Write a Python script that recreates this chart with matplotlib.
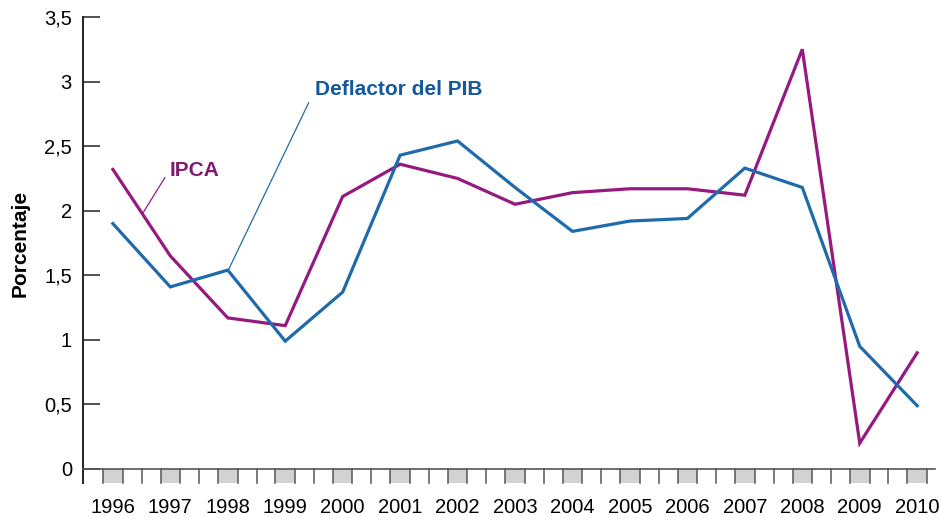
import matplotlib
matplotlib.use("Agg")
import matplotlib.pyplot as plt
from matplotlib.patches import Rectangle
from matplotlib.transforms import blended_transform_factory

plt.rcParams["font.family"] = ["Liberation Sans", "DejaVu Sans"]

years = list(range(1996, 2011))
ipca = [2.32, 1.65, 1.17, 1.11, 2.11, 2.36, 2.25, 2.05, 2.14, 2.17, 2.17, 2.12, 3.25, 0.20, 0.90]
deflactor = [1.90, 1.41, 1.54, 0.99, 1.37, 2.43, 2.54, 2.18, 1.84, 1.92, 1.94, 2.33, 2.18, 0.95, 0.49]
yticks = [0, 0.5, 1, 1.5, 2, 2.5, 3, 3.5]
ytick_labels = ["0", "0,5", "1", "1,5", "2", "2,5", "3", "3,5"]

PURPLE = "#951a80"
BLUE = "#1f6aab"

fig = plt.figure(figsize=(9.4, 5.18), dpi=100)
ax = fig.add_axes([83 / 940, (518 - 469) / 518, (935 - 83) / 940, 452 / 518])

ax.plot(years, ipca, color=PURPLE, lw=2.3, solid_joinstyle="miter")
ax.plot(years, deflactor, color=BLUE, lw=2.3, solid_joinstyle="miter")

ax.set_xlim(1995.48, 2010.31)
ax.set_ylim(0, 3.5)

for s in ["top", "right", "left"]:
    ax.spines[s].set_visible(False)
ax.spines["bottom"].set_color("#555555")
ax.spines["bottom"].set_linewidth(1.2)

# left axis line reaching down into the year strip
ax.plot([0, 0], [-0.032, 1], transform=ax.transAxes, color="#222222", lw=1.4, clip_on=False)

ax.set_yticks(yticks)
ax.set_yticklabels(ytick_labels)
ax.tick_params(axis="y", direction="in", length=12, width=1.2, color="#333333",
               pad=8, labelsize=14.5, left=True)
ax.set_xticks(years)
ax.set_xticklabels([str(y) for y in years])
ax.tick_params(axis="x", length=0, pad=21, labelsize=14.5)

# strip of grey boxes and ticks under the axis
trans = blended_transform_factory(ax.transData, ax.transAxes)
strip = 0.032
for y in years:
    ax.add_patch(Rectangle((y - 0.17, -strip), 0.34, strip, transform=trans,
                           facecolor="#d2d2d2", edgecolor="none", clip_on=False))
    for xt in (y - 0.17, y + 0.17):
        ax.plot([xt, xt], [-strip, 0], transform=trans, color="#555555", lw=1.1, clip_on=False)
    if y < years[-1]:
        ax.plot([y + 0.5, y + 0.5], [-strip, 0], transform=trans, color="#555555", lw=1.1, clip_on=False)

ax.set_ylabel("Porcentaje", fontsize=15, fontweight="bold", labelpad=10)

# series labels with leader lines
ax.annotate("IPCA", xy=(1996.52, 1.98), xytext=(1996.98, 2.31),
            color="#7f1a70", fontsize=15, fontweight="bold", va="center", ha="left",
            arrowprops=dict(arrowstyle="-", color=PURPLE, lw=0.9, shrinkA=2, shrinkB=0,
                            relpos=(0, 0.5)))
ax.annotate("Deflactor del PIB", xy=(1998.02, 1.55), xytext=(1999.52, 2.94),
            color="#13599b", fontsize=15, fontweight="bold", va="center", ha="left",
            arrowprops=dict(arrowstyle="-", color=BLUE, lw=0.9, shrinkA=6, shrinkB=0,
                            relpos=(0, 0.5)))

fig.savefig("out.png", dpi=100)
